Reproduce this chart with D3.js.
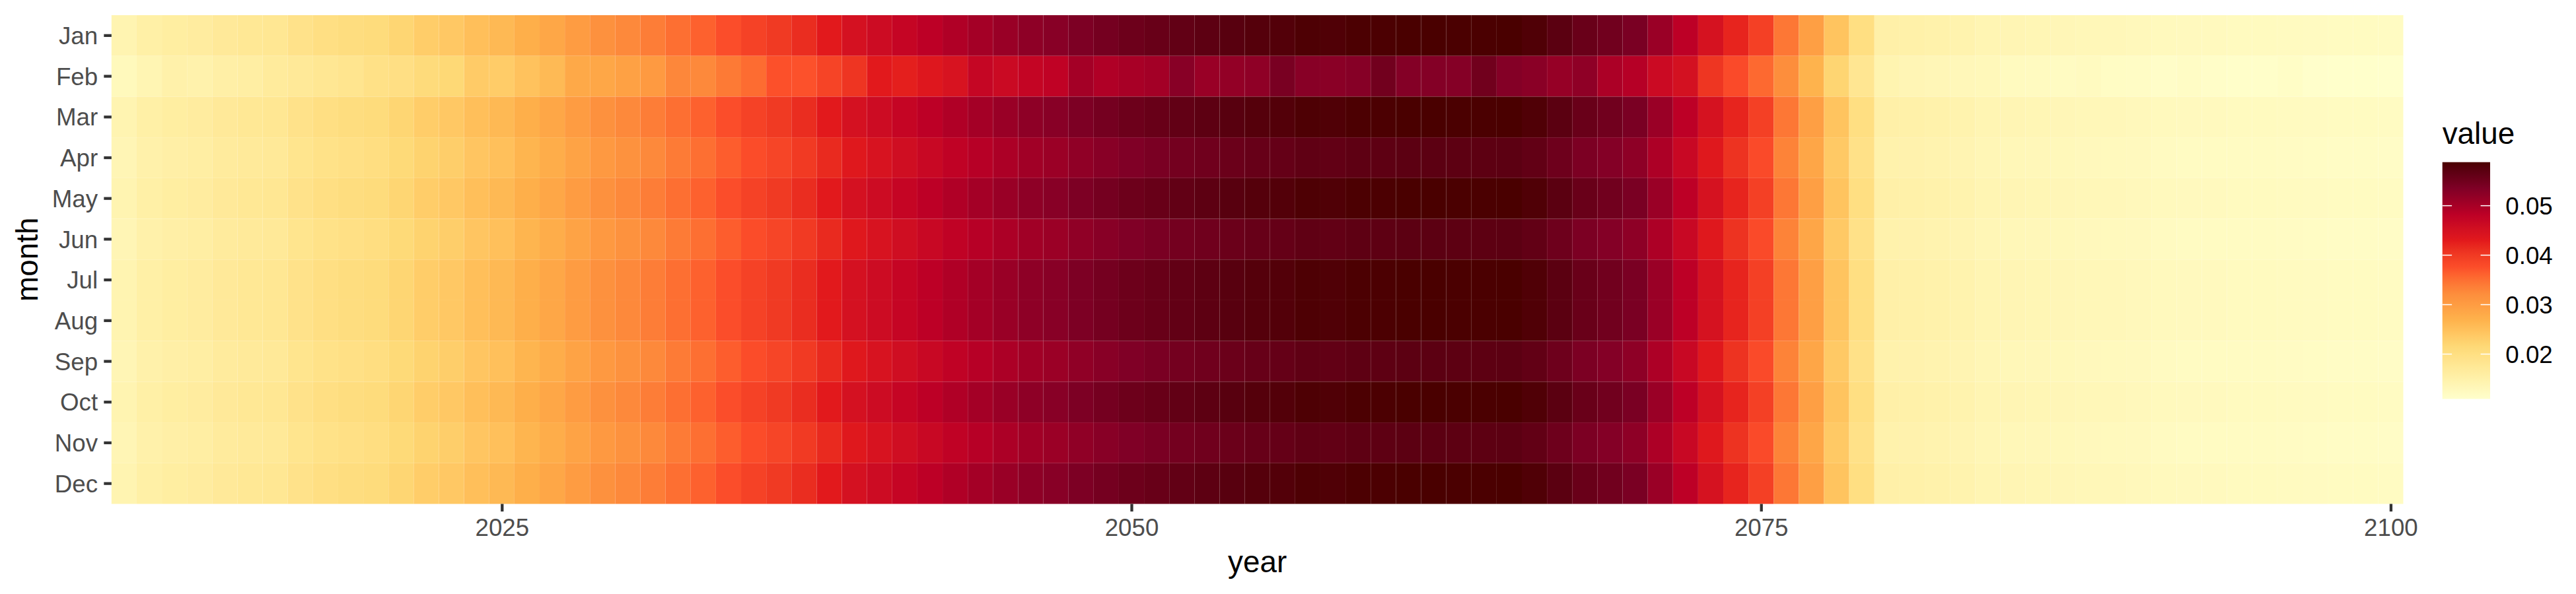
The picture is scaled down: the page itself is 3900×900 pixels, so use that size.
<!DOCTYPE html>
<html>
<head>
<meta charset="utf-8">
<script src="https://cdn.jsdelivr.net/npm/d3@7"></script>
<style>
  body { margin: 0; background: #fff; }
  svg { display: block; }
  text { font-family: "Liberation Sans", Arial, Helvetica, sans-serif; }
</style>
</head>
<body>
<div id="chart"></div>
<script>
// ---------------- DATA ----------------
const years = d3.range(2010, 2101);           // 2010 ... 2100
const months = ["Jan","Feb","Mar","Apr","May","Jun","Jul","Aug","Sep","Oct","Nov","Dec"];
const xTickValues = [2025, 2050, 2075, 2100];
const legendTickValues = [0.02, 0.03, 0.04, 0.05];

// values read for the 31-day months (Jan, Mar, May, Jul, Aug, Oct, Dec), 2010..2100
const values31 = [
  0.0142,0.0155,0.0161,0.0164,0.0172,0.0176,0.0179,0.0191,0.0199,0.0204,
  0.0208,0.0220,0.0232,0.0239,0.0251,0.0259,0.0274,0.0285,0.0301,0.0316,
  0.0326,0.0337,0.0350,0.0361,0.0377,0.0390,0.0400,0.0413,0.0430,0.0449,
  0.0460,0.0471,0.0482,0.0493,0.0503,0.0513,0.0522,0.0528,0.0538,0.0545,
  0.0553,0.0558,0.0564,0.0568,0.0573,0.0577,0.0579,0.0584,0.0582,0.0586,
  0.0586,0.0588,0.0588,0.0587,0.0587,0.0588,0.0582,0.0570,0.0557,0.0549,
  0.0540,0.0512,0.0481,0.0448,0.0421,0.0393,0.0343,0.0296,0.0245,0.0200,
  0.0153,0.0152,0.0149,0.0146,0.0140,0.0138,0.0137,0.0135,0.0133,0.0132,
  0.0130,0.0127,0.0126,0.0126,0.0125,0.0125,0.0124,0.0123,0.0122,0.0122,
  0.0121
];
// values read for the 30-day months (Apr, Jun, Sep, Nov), 2010..2100
const values30 = [
  0.01374,0.01500,0.01558,0.01587,0.01665,0.01703,0.01732,0.01848,0.01926,0.01974,
  0.02013,0.02129,0.02245,0.02313,0.02429,0.02506,0.02652,0.02758,0.02913,0.03058,
  0.03155,0.03261,0.03387,0.03494,0.03648,0.03774,0.03871,0.03997,0.04161,0.04345,
  0.04452,0.04558,0.04665,0.04771,0.04868,0.04965,0.05052,0.05110,0.05206,0.05274,
  0.05352,0.05400,0.05458,0.05497,0.05545,0.05584,0.05603,0.05652,0.05632,0.05671,
  0.05671,0.05690,0.05690,0.05681,0.05681,0.05690,0.05632,0.05516,0.05390,0.05313,
  0.05226,0.04955,0.04655,0.04335,0.04074,0.03803,0.03319,0.02865,0.02371,0.01935,
  0.01481,0.01471,0.01442,0.01413,0.01355,0.01335,0.01326,0.01306,0.01287,0.01277,
  0.01258,0.01229,0.01219,0.01219,0.01210,0.01210,0.01200,0.01190,0.01181,0.01181,
  0.01171
];
// values read for February, 2010..2100
const valuesFeb = [
  0.01283,0.01400,0.01506,0.01481,0.01554,0.01590,0.01675,0.01725,0.01797,0.01843,
  0.01946,0.01987,0.02095,0.02159,0.02348,0.02339,0.02475,0.02574,0.02816,0.02854,
  0.02945,0.03044,0.03274,0.03261,0.03405,0.03523,0.03742,0.03730,0.03884,0.04055,
  0.04303,0.04254,0.04354,0.04453,0.04705,0.04634,0.04715,0.04769,0.05033,0.04923,
  0.04995,0.05040,0.05276,0.05130,0.05175,0.05212,0.05416,0.05275,0.05257,0.05293,
  0.05482,0.05311,0.05311,0.05302,0.05491,0.05311,0.05257,0.05148,0.05211,0.04959,
  0.04877,0.04625,0.04500,0.04046,0.03803,0.03550,0.03209,0.02674,0.02213,0.01806,
  0.01431,0.01373,0.01346,0.01319,0.01310,0.01246,0.01237,0.01219,0.01244,0.01192,
  0.01174,0.01147,0.01179,0.01138,0.01129,0.01129,0.01160,0.01111,0.01102,0.01102,
  0.01093
];
const monthValues = {
  Jan: values31, Feb: valuesFeb, Mar: values31, Apr: values30,
  May: values31, Jun: values30, Jul: values31, Aug: values31,
  Sep: values30, Oct: values31, Nov: values30, Dec: values31
};
const palette = ["#ffffcc","#ffeda0","#fed976","#feb24c","#fd8d3c",
                 "#fc4e2a","#e31a1c","#bd0026","#800026","#4a0000"];

// ---------------- BUILD ----------------
const cells = [];
months.forEach(m => years.forEach((y, i) => cells.push({year: y, month: m, value: monthValues[m][i]})));

const W = 3900, H = 900;
const panel = {left: 168.8, right: 3638.5, top: 23, bottom: 763.5};
const tickFont = 36.7, titleFont = 45.8;
const tickLen = 11.5, tickGap = 9.2;

const svg = d3.select("#chart").append("svg")
  .attr("width", W).attr("height", H)
  .attr("viewBox", `0 0 ${W} ${H}`);
svg.append("rect").attr("width", W).attr("height", H).attr("fill", "#fff");

const x = d3.scaleLinear().domain([2009.5, 2100.5]).range([panel.left, panel.right]);
const y = d3.scaleBand().domain(months).range([panel.top, panel.bottom]).padding(0);

const [vmin, vmax] = d3.extent(cells, d => d.value);
const color = d3.scaleLinear()
  .domain(palette.map((_, i) => vmin + i * (vmax - vmin) / (palette.length - 1)))
  .range(palette)
  .interpolate(d3.interpolateLab);

// tiles
svg.append("g").selectAll("rect").data(cells).join("rect")
  .attr("x", d => x(d.year - 0.5))
  .attr("width", d => x(d.year + 0.5) - x(d.year - 0.5))
  .attr("y", d => y(d.month))
  .attr("height", y.bandwidth())
  .attr("fill", d => color(d.value));

// x axis
const xAxis = d3.axisBottom(x).tickValues(xTickValues).tickFormat(d3.format("d"))
  .tickSize(tickLen).tickPadding(tickGap);
const gx = svg.append("g").attr("transform", `translate(0,${panel.bottom})`).call(xAxis);
gx.select(".domain").remove();
gx.selectAll(".tick line").attr("stroke", "#333333").attr("stroke-width", 4.3);
gx.selectAll(".tick text").attr("fill", "#4d4d4d").attr("font-size", tickFont)
  .attr("font-family", null).attr("dy", null).attr("y", tickLen + tickGap + 27.6);

// y axis
const yAxis = d3.axisLeft(y).tickSize(tickLen).tickPadding(tickGap);
const gy = svg.append("g").attr("transform", `translate(${panel.left},0)`).call(yAxis);
gy.select(".domain").remove();
gy.selectAll(".tick line").attr("stroke", "#333333").attr("stroke-width", 4.3);
gy.selectAll(".tick text").attr("fill", "#4d4d4d").attr("font-size", tickFont)
  .attr("font-family", null).attr("dy", null).attr("y", 13.1);

// axis titles
svg.append("text").text("year")
  .attr("x", (panel.left + panel.right) / 2).attr("y", 867)
  .attr("text-anchor", "middle").attr("font-size", titleFont).attr("fill", "#000");
svg.append("text").text("month")
  .attr("transform", `translate(56.7,${(panel.top + panel.bottom) / 2}) rotate(-90)`)
  .attr("text-anchor", "middle").attr("font-size", titleFont).attr("fill", "#000");

// legend
const leg = {left: 3697.7, width: 72.3, top: 245.7, bottom: 604.5};
const ly = d3.scaleLinear().domain([vmin, vmax]).range([leg.bottom, leg.top]);
const defs = svg.append("defs");
const grad = defs.append("linearGradient").attr("id", "lgrad")
  .attr("x1", 0).attr("y1", 1).attr("x2", 0).attr("y2", 0);
d3.range(0, 101).forEach(i => {
  const t = i / 100;
  grad.append("stop").attr("offset", t).attr("stop-color", color(vmin + t * (vmax - vmin)));
});
svg.append("text").text("value")
  .attr("x", leg.left).attr("y", 218)
  .attr("font-size", titleFont).attr("fill", "#000");
svg.append("rect")
  .attr("x", leg.left).attr("y", leg.top)
  .attr("width", leg.width).attr("height", leg.bottom - leg.top)
  .attr("fill", "url(#lgrad)");
const lt = svg.append("g");
legendTickValues.forEach(v => {
  const yy = ly(v);
  lt.append("line").attr("x1", leg.left).attr("x2", leg.left + 14.4)
    .attr("y1", yy).attr("y2", yy).attr("stroke", "#fff").attr("stroke-width", 1.5);
  lt.append("line").attr("x1", leg.left + leg.width - 14.4).attr("x2", leg.left + leg.width)
    .attr("y1", yy).attr("y2", yy).attr("stroke", "#fff").attr("stroke-width", 1.5);
  lt.append("text").text(d3.format(".2f")(v))
    .attr("x", leg.left + leg.width + 23.3).attr("y", yy + 13.1)
    .attr("font-size", tickFont).attr("fill", "#000");
});
</script>
</body>
</html>
